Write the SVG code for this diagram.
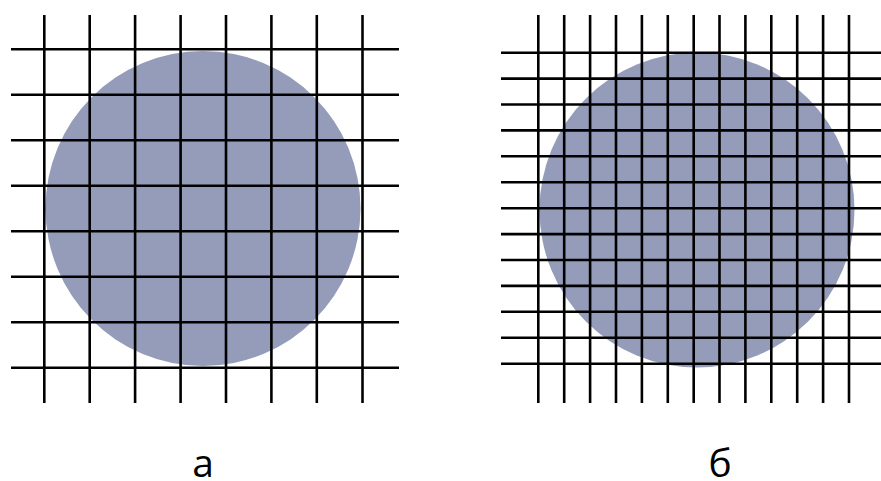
<svg xmlns="http://www.w3.org/2000/svg" width="881" height="481" viewBox="0 0 881 481">
<style>
.disk{fill:#949cba}
.grid line{stroke:#000;stroke-width:2.6}
.lbl{font-family:"Open Sans","Noto Sans",sans-serif;font-size:39px;fill:#000;text-anchor:middle}
</style>
<rect width="881" height="481" fill="#fff"/>
<g id="panel-a">
<circle class="disk" cx="203" cy="208.5" r="157.5"/>
<g class="grid">
<line x1="44.3" y1="15" x2="44.3" y2="403"/>
<line x1="89.7" y1="15" x2="89.7" y2="403"/>
<line x1="135.1" y1="15" x2="135.1" y2="403"/>
<line x1="180.6" y1="15" x2="180.6" y2="403"/>
<line x1="226" y1="15" x2="226" y2="403"/>
<line x1="271.4" y1="15" x2="271.4" y2="403"/>
<line x1="316.8" y1="15" x2="316.8" y2="403"/>
<line x1="362.5" y1="15" x2="362.5" y2="403"/>
<line x1="11" y1="49.3" x2="399" y2="49.3"/>
<line x1="11" y1="94.8" x2="399" y2="94.8"/>
<line x1="11" y1="140.3" x2="399" y2="140.3"/>
<line x1="11" y1="185.8" x2="399" y2="185.8"/>
<line x1="11" y1="231.3" x2="399" y2="231.3"/>
<line x1="11" y1="276.8" x2="399" y2="276.8"/>
<line x1="11" y1="322.3" x2="399" y2="322.3"/>
<line x1="11" y1="367.7" x2="399" y2="367.7"/>
</g>
<text class="lbl" x="203" y="477">а</text>
</g>
<g id="panel-b">
<circle class="disk" cx="697" cy="210" r="157.5"/>
<g class="grid">
<line x1="538.3" y1="15" x2="538.3" y2="403"/>
<line x1="564.2" y1="15" x2="564.2" y2="403"/>
<line x1="590.1" y1="15" x2="590.1" y2="403"/>
<line x1="616" y1="15" x2="616" y2="403"/>
<line x1="641.9" y1="15" x2="641.9" y2="403"/>
<line x1="667.8" y1="15" x2="667.8" y2="403"/>
<line x1="693.7" y1="15" x2="693.7" y2="403"/>
<line x1="719.5" y1="15" x2="719.5" y2="403"/>
<line x1="745.4" y1="15" x2="745.4" y2="403"/>
<line x1="771.3" y1="15" x2="771.3" y2="403"/>
<line x1="797.2" y1="15" x2="797.2" y2="403"/>
<line x1="823.1" y1="15" x2="823.1" y2="403"/>
<line x1="849" y1="15" x2="849" y2="403"/>
<line x1="501" y1="52.7" x2="881" y2="52.7"/>
<line x1="501" y1="78.6" x2="881" y2="78.6"/>
<line x1="501" y1="104.5" x2="881" y2="104.5"/>
<line x1="501" y1="130.4" x2="881" y2="130.4"/>
<line x1="501" y1="156.3" x2="881" y2="156.3"/>
<line x1="501" y1="182.2" x2="881" y2="182.2"/>
<line x1="501" y1="208.2" x2="881" y2="208.2"/>
<line x1="501" y1="234.1" x2="881" y2="234.1"/>
<line x1="501" y1="260" x2="881" y2="260"/>
<line x1="501" y1="285.9" x2="881" y2="285.9"/>
<line x1="501" y1="311.8" x2="881" y2="311.8"/>
<line x1="501" y1="337.7" x2="881" y2="337.7"/>
<line x1="501" y1="363.7" x2="881" y2="363.7"/>
</g>
<text class="lbl" x="720" y="477">б</text>
</g>
</svg>
